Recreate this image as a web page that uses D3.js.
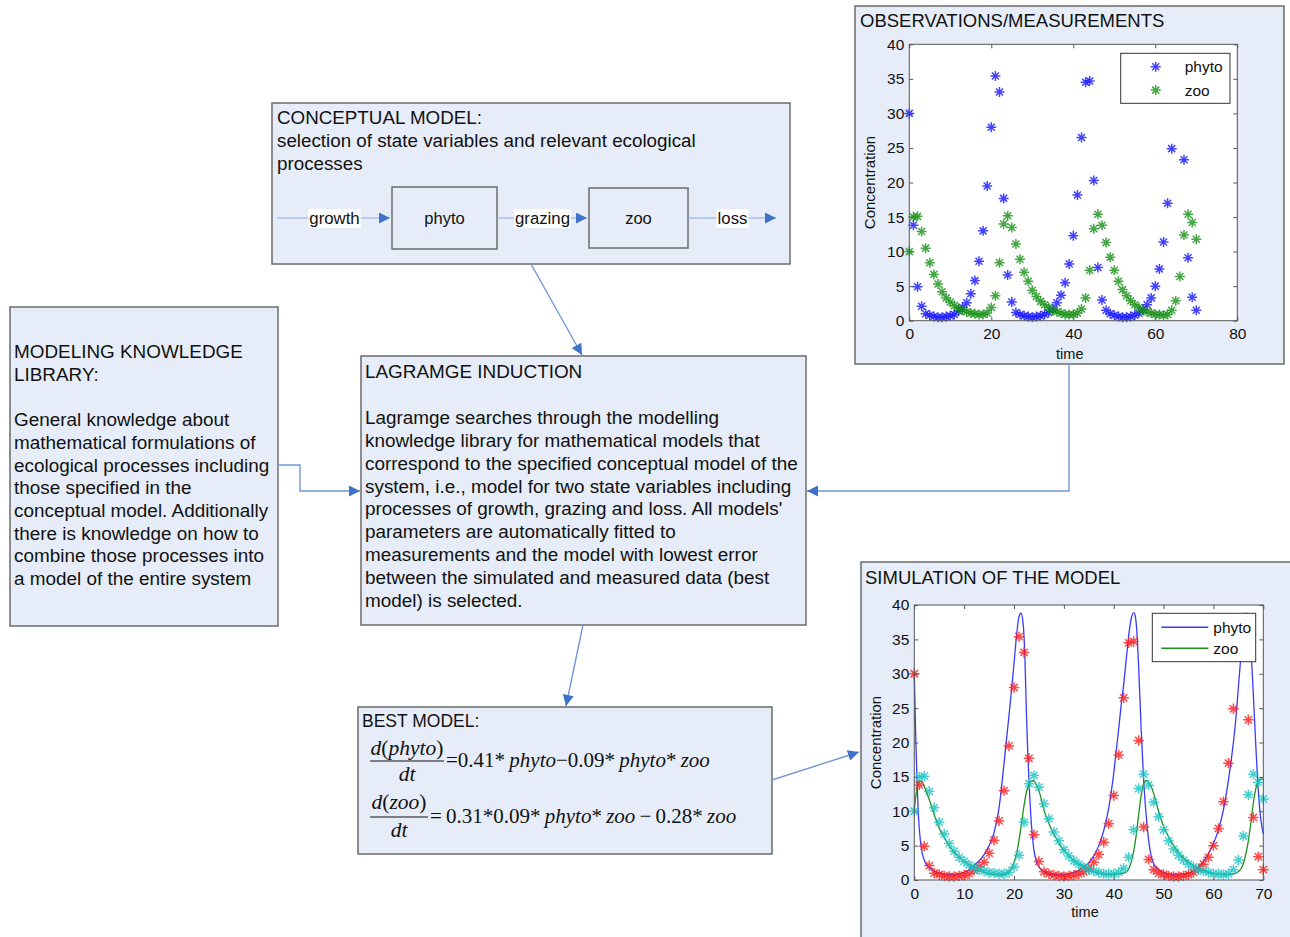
<!DOCTYPE html>
<html>
<head>
<meta charset="utf-8">
<script src="https://cdn.jsdelivr.net/npm/d3@7"></script>
<style>
  body { margin: 0; background: #fff; }
  svg { display: block; }
</style>
</head>
<body>
<svg id="fig" width="1290" height="937"></svg>
<script>
// ---- data ----
// measured series, one sample per time unit (t = 0..70)
const obsTime = d3.range(0, 71);
const phytoObs = [30, 13.8, 4.9, 2.1, 1.0, 0.8, 0.6, 0.5, 0.5, 0.6, 0.7, 0.9, 1.4, 1.9, 2.6, 3.9, 5.8, 8.6, 13.0, 19.5,
  28.0, 35.4, 33.1, 17.7, 6.6, 2.7, 1.2, 0.9, 0.7, 0.6, 0.5, 0.6, 0.7, 0.9, 1.2, 1.7, 2.6, 3.7, 5.5, 8.2,
  12.3, 18.2, 26.5, 34.5, 34.7, 20.3, 7.7, 3.0, 1.5, 1.0, 0.8, 0.6, 0.5, 0.5, 0.6, 0.8, 1.1, 1.6, 2.3, 3.3,
  5.0, 7.5, 11.4, 17.0, 24.9, 34.5, 36.5, 23.3, 9.1, 3.4, 1.5];
const zooObs = [10.0, 15.0, 15.1, 12.9, 10.5, 8.4, 6.7, 5.3, 4.2, 3.3, 2.7, 2.2, 1.8, 1.5, 1.3, 1.1, 1.0, 0.9, 0.9, 1.1,
  1.9, 3.6, 8.4, 14.0, 15.2, 13.5, 11.1, 8.9, 7.0, 5.7, 4.4, 3.5, 2.8, 2.3, 1.9, 1.5, 1.3, 1.1, 0.9, 0.9,
  0.9, 1.1, 1.7, 3.3, 7.3, 13.3, 15.4, 13.8, 11.3, 9.2, 7.3, 5.7, 4.5, 3.6, 2.9, 2.3, 1.9, 1.5, 1.3, 1.1,
  0.9, 0.9, 0.8, 0.9, 1.5, 2.9, 6.4, 12.4, 15.4, 14.2, 11.8];

// simulated curves of the best model
const simPhytoTime = [0, 0.25, 0.5, 0.75, 1, 1.5, 2, 2.5, 3, 4, 5, 6, 7, 8, 9, 10, 11, 12, 13, 14, 15, 16, 17, 17.5, 18, 18.5,
  19, 19.5, 20, 20.5, 21, 21.4, 21.8, 22.2, 22.5, 23, 23.5, 24, 24.5, 25, 26, 27, 28, 29, 30, 31, 32, 33, 34, 35,
  36, 37, 38, 39, 39.5, 40, 40.5, 41, 41.5, 42, 42.5, 43, 43.5, 44, 44.3, 44.6, 45, 45.5, 46, 46.5, 47, 47.5, 48,
  49, 50, 51, 52, 53, 54, 55, 56, 57, 58, 59, 60, 61, 62, 63, 64, 64.5, 65, 65.5, 66, 66.5, 67, 67.5, 68, 68.5,
  69, 69.5, 70];
const simPhyto = [30, 22, 15.5, 10.5, 7.5, 4.2, 2.9, 2.2, 1.8, 1.3, 1.0, 0.85, 0.8, 0.8, 0.9, 1.1, 1.5, 2.1, 2.8, 3.7, 5.0, 6.9, 10.5, 13.5, 17, 20.5,
  24, 27.6, 31.5, 35.5, 38.3, 38.8, 37.5, 32, 24, 14.5, 8, 4.3, 2.7, 1.9, 1.2, 0.9, 0.8, 0.8, 0.8, 0.9, 1.1, 1.4, 1.9, 2.5,
  3.5, 5.0, 7.2, 10.5, 12.8, 15.5, 18.8, 22, 25.5, 28.5, 32, 35.5, 38, 38.9, 38.5, 36.5, 31, 22, 14.5, 9.5, 5.8, 3.5, 2.4,
  1.5, 1.1, 0.9, 0.8, 0.8, 0.9, 1.0, 1.3, 1.9, 2.7, 3.8, 5.3, 7.3, 10.2, 14.5, 20, 23.5, 28, 32.5, 36.5, 38.8, 38.5, 34, 27, 19.5,
  13, 8.8, 6.7];
const simZooTime = [0, 0.5, 1, 1.5, 2, 2.5, 3, 4, 5, 6, 7, 8, 9, 10, 11, 12, 13, 14, 15, 16, 17, 18, 19, 19.5, 20, 20.5,
  21, 21.5, 22, 22.5, 23, 23.5, 24, 24.5, 25, 26, 27, 28, 29, 30, 31, 32, 33, 34, 35, 36, 37, 38, 39, 40, 41, 42,
  42.5, 43, 43.5, 44, 44.5, 45, 45.5, 46, 46.5, 47, 47.5, 48, 49, 50, 51, 52, 53, 54, 55, 56, 57, 58, 59, 60, 61,
  62, 63, 64, 65, 65.5, 66, 66.5, 67, 67.5, 68, 68.5, 69, 69.5, 70];
const simZoo = [10.2, 13.2, 14.4, 14.3, 13.6, 12.7, 11.7, 9.5, 7.5, 6.2, 5.0, 4.0, 3.3, 2.7, 2.2, 1.7, 1.4, 1.1, 0.9, 0.8, 0.7, 0.8, 1.2, 1.7, 2.5, 3.8,
  5.8, 8.2, 10.8, 12.8, 13.9, 14.4, 14.4, 13.8, 13.0, 10.2, 8.2, 6.7, 5.4, 4.3, 3.5, 2.8, 2.3, 1.9, 1.5, 1.25, 1.0, 0.9, 0.8, 0.8, 0.85, 1.0,
  1.2, 1.6, 2.6, 4.2, 6.5, 9.5, 12.3, 14.0, 14.5, 14.2, 13.6, 12.6, 10.0, 7.8, 6.3, 5.0, 4.0, 3.2, 2.6, 2.1, 1.7, 1.4, 1.1, 0.95, 0.85,
  0.8, 0.8, 0.9, 1.2, 1.6, 2.4, 3.8, 5.7, 8.3, 11.2, 13.3, 14.3, 14.7, 14.6];

const seriesNames = ["phyto", "zoo"];
const yTicks = [0, 5, 10, 15, 20, 25, 30, 35, 40];
const obsXTicks = [0, 20, 40, 60, 80];
const simXTicks = [0, 10, 20, 30, 40, 50, 60, 70];

const libraryLines = ["MODELING KNOWLEDGE", "LIBRARY:", "", "General knowledge about", "mathematical formulations of",
  "ecological processes including", "those specified in the", "conceptual model. Additionally",
  "there is knowledge on how to", "combine those processes into", "a model of the entire system"];
const inductionLines = ["LAGRAMGE INDUCTION", "", "Lagramge searches through the modelling",
  "knowledge library for mathematical models that", "correspond to the specified conceptual model of the",
  "system, i.e., model for two state variables including", "processes of growth, grazing and loss. All models'",
  "parameters are automatically fitted to", "measurements and the model with lowest error",
  "between the simulated and measured data (best", "model) is selected."];
const conceptLines = ["CONCEPTUAL MODEL:", "selection of state variables and relevant ecological", "processes"];

// ---- drawing ----
const SANS = "'Liberation Sans', Arial, sans-serif";
const SERIF = "'Liberation Serif', 'Times New Roman', serif";
const BOX_FILL = "#e6edf8", BOX_STROKE = "#6b6b6b";
const LINK = "#7398d6", HEAD = "#3f72c8";

const svg = d3.select("#fig");
svg.append("rect").attr("width", 1290).attr("height", 937).attr("fill", "#fff");

svg.append("defs").append("marker")
  .attr("id", "ah").attr("viewBox", "0 0 10 10").attr("refX", 10).attr("refY", 5)
  .attr("markerWidth", 12).attr("markerHeight", 11).attr("markerUnits", "userSpaceOnUse")
  .attr("orient", "auto")
  .append("path").attr("d", "M0,0L10,5L0,10z").attr("fill", HEAD);

function box(x, y, w, h, fill) {
  return svg.append("rect").attr("x", x).attr("y", y).attr("width", w).attr("height", h)
    .attr("fill", fill || BOX_FILL).attr("stroke", BOX_STROKE).attr("stroke-width", 1.5);
}

function textLines(arr, x, y, dy, size) {
  const t = svg.append("text").attr("font-family", SANS).attr("font-size", size).attr("fill", "#111");
  arr.forEach((s, i) => t.append("tspan").attr("x", x).attr("y", y + i * dy).text(s));
  return t;
}

function link(points) {
  svg.append("path").attr("d", d3.line()(points)).attr("fill", "none")
    .attr("stroke", LINK).attr("stroke-width", 1.4).attr("marker-end", "url(#ah)");
}

// boxes
box(272, 103, 518, 161);
box(10, 307, 268, 319);
box(361, 356, 445, 269);
box(358, 707, 414, 147);
box(855, 6, 429, 358);
box(861, 562, 440, 390);

textLines(conceptLines, 277, 124, 23, 18.8);
textLines(libraryLines, 14, 358, 22.7, 18.9);
textLines(inductionLines, 365, 378, 22.9, 18.9);
textLines(["BEST MODEL:"], 362, 727, 0, 17.5);
textLines(["OBSERVATIONS/MEASUREMENTS"], 860, 27, 0, 18.5);
textLines(["SIMULATION OF THE MODEL"], 865, 584, 0, 18.5);

// conceptual model flow
const flowY = 218;
box(392, 187, 105, 62);
box(589, 188, 99, 60);
[["phyto", 444.5], ["zoo", 638.5]].forEach(([s, cx]) =>
  svg.append("text").attr("x", cx).attr("y", flowY + 6).attr("text-anchor", "middle")
    .attr("font-family", SANS).attr("font-size", 16.5).attr("fill", "#111").text(s));
const flows = [
  { label: "growth", x1: 277, x2: 392, lx: 334.5 },
  { label: "grazing", x1: 497, x2: 589, lx: 542.5 },
  { label: "loss", x1: 688, x2: 778, lx: 732.5 }
];
flows.forEach(f => {
  svg.append("line").attr("x1", f.x1).attr("x2", f.x2 - 2).attr("y1", flowY).attr("y2", flowY)
    .attr("stroke", "#8aa9dc").attr("stroke-width", 1.2).attr("marker-end", "url(#ah)");
  const t = svg.append("text").attr("x", f.lx).attr("y", flowY + 6).attr("text-anchor", "middle")
    .attr("font-family", SANS).attr("font-size", 16.8).attr("fill", "#111").text(f.label);
  const b = t.node().getBBox();
  svg.insert("rect", () => t.node()).attr("x", b.x - 1).attr("y", b.y).attr("width", b.width + 2)
    .attr("height", b.height).attr("fill", "#fff");
});

// equations
function fraction(cx, yNum, yBar, yDen, w, parts) {
  const n = svg.append("text").attr("x", cx).attr("y", yNum).attr("text-anchor", "middle")
    .attr("font-family", SERIF).attr("font-size", 21.5).attr("fill", "#111");
  parts.forEach(([s, it]) => n.append("tspan").attr("font-style", it ? "italic" : "normal").text(s));
  svg.append("line").attr("x1", cx - w / 2).attr("x2", cx + w / 2).attr("y1", yBar).attr("y2", yBar)
    .attr("stroke", "#111").attr("stroke-width", 1.1);
  svg.append("text").attr("x", cx).attr("y", yDen).attr("text-anchor", "middle")
    .attr("font-family", SERIF).attr("font-size", 21.5).attr("font-style", "italic").attr("fill", "#111").text("dt");
}
function rhs(x, y, parts) {
  const t = svg.append("text").attr("x", x).attr("y", y).attr("font-family", SERIF)
    .attr("font-size", 21).attr("fill", "#111").attr("xml:space", "preserve");
  parts.forEach(([s, it]) => t.append("tspan").attr("font-style", it ? "italic" : "normal").text(s));
}
fraction(407, 755, 761, 781, 74, [["d", true], ["(", false], ["phyto", true], [")", false]]);
rhs(446, 767, [["=0.41*\u2009", false], ["phyto", true], ["\u2212", false], ["0.09*\u2009", false], ["phyto", true], ["*\u2009", false], ["zoo", true]]);
fraction(399, 809, 817, 837, 58, [["d", true], ["(", false], ["zoo", true], [")", false]]);
rhs(430, 823, [["=\u20090.31*0.09*\u2009", false], ["phyto", true], ["*\u2009", false], ["zoo", true], ["\u2009\u2212\u2009", false], ["0.28*\u2009", false], ["zoo", true]]);

// connectors
link([[531, 264], [582, 355]]);
link([[278, 465], [300, 465], [300, 491], [360, 491]]);
link([[1069, 364], [1069, 491], [807, 491]]);
link([[583, 625], [566, 706]]);
link([[772, 780], [859, 752]]);

// ---- charts ----
function star(r) {
  const k = r * 0.7;
  return `M${-r},0H${r}M0,${-r}V${r}M${-k},${-k}L${k},${k}M${-k},${k}L${k},${-k}`;
}

function chart(cfg) {
  const g = svg.append("g");
  const x = d3.scaleLinear().domain([cfg.xTicks[0], cfg.xTicks[cfg.xTicks.length - 1]]).range([cfg.left, cfg.right]);
  const y = d3.scaleLinear().domain([0, 40]).range([cfg.bottom, cfg.top]);
  g.append("rect").attr("x", cfg.left).attr("y", cfg.top).attr("width", cfg.right - cfg.left)
    .attr("height", cfg.bottom - cfg.top).attr("fill", "#fff");

  const style = sel => {
    sel.select(".domain").remove();
    sel.selectAll("line").attr("stroke", "#555");
    sel.selectAll("text").attr("font-family", SANS).attr("font-size", 15.5).attr("fill", "#111");
  };
  g.append("g").attr("transform", `translate(0,${cfg.bottom})`)
    .call(d3.axisBottom(x).tickValues(cfg.xTicks).tickSizeInner(-4).tickSizeOuter(0).tickPadding(cfg.xPad)).call(style);
  g.append("g").attr("transform", `translate(0,${cfg.top})`)
    .call(d3.axisTop(x).tickValues(cfg.xTicks).tickSizeInner(-4).tickSizeOuter(0).tickFormat("")).call(style);
  g.append("g").attr("transform", `translate(${cfg.left},0)`)
    .call(d3.axisLeft(y).tickValues(yTicks).tickSizeInner(-4).tickSizeOuter(0).tickPadding(5)).call(style);
  g.append("g").attr("transform", `translate(${cfg.right},0)`)
    .call(d3.axisRight(y).tickValues(yTicks).tickSizeInner(-4).tickSizeOuter(0).tickFormat("")).call(style);

  const plot = g.append("g");
  (cfg.lines || []).forEach(s => {
    plot.append("path").datum(s.t.map((t, i) => [t, s.v[i]]))
      .attr("fill", "none").attr("stroke", s.color).attr("stroke-width", 1.3)
      .attr("d", d3.line().x(d => x(d[0])).y(d => y(d[1])).curve(d3.curveMonotoneX));
  });
  cfg.points.forEach(s => {
    plot.append("g").selectAll("path").data(obsTime).join("path")
      .attr("transform", (t, i) => `translate(${x(t)},${y(s.v[i])})`)
      .attr("d", star(cfg.r)).attr("fill", "none").attr("stroke", s.color)
      .attr("stroke-width", 1.5).attr("stroke-opacity", 0.8);
  });

  g.append("rect").attr("x", cfg.left).attr("y", cfg.top).attr("width", cfg.right - cfg.left)
    .attr("height", cfg.bottom - cfg.top).attr("fill", "none").attr("stroke", "#555").attr("stroke-width", 1);

  g.append("text").attr("x", (cfg.left + cfg.right) / 2 + cfg.timeShift).attr("y", cfg.timeY).attr("text-anchor", "middle")
    .attr("font-family", SANS).attr("font-size", 14.5).attr("fill", "#111").text("time");
  g.append("text").attr("transform", `translate(${cfg.ylabX},${(cfg.top + cfg.bottom) / 2}) rotate(-90)`)
    .attr("text-anchor", "middle").attr("dy", "0.35em")
    .attr("font-family", SANS).attr("font-size", 15).attr("fill", "#111").text("Concentration");

  // legend
  const L = cfg.legend;
  g.append("rect").attr("x", L.x).attr("y", L.y).attr("width", L.w).attr("height", L.h)
    .attr("fill", "#fff").attr("stroke", "#333").attr("stroke-width", 1);
  seriesNames.forEach((name, i) => {
    const yy = L.y + L.row0 + i * L.dy;
    const col = cfg.lines ? cfg.lines[i].color : cfg.points[i].color;
    if (cfg.lines) {
      g.append("line").attr("x1", L.x + 9).attr("x2", L.x + 56).attr("y1", yy).attr("y2", yy)
        .attr("stroke", col).attr("stroke-width", 1.5);
    } else {
      g.append("path").attr("transform", `translate(${L.x + 35},${yy})`).attr("d", star(cfg.r))
        .attr("fill", "none").attr("stroke", col).attr("stroke-width", 1.5).attr("stroke-opacity", 0.8);
    }
    g.append("text").attr("x", L.x + L.tx).attr("y", yy).attr("dy", "0.35em")
      .attr("font-family", SANS).attr("font-size", 15.5).attr("fill", "#111").text(name);
  });
}

chart({
  left: 909.3, right: 1237.3, top: 44.3, bottom: 320.7, xTicks: obsXTicks, xPad: 7,
  r: 5, timeY: 359, timeShift: -3.5, ylabX: 870,
  points: [{ v: phytoObs, color: "#1414ff" }, { v: zooObs, color: "#159015" }],
  legend: { x: 1120.7, y: 53.3, w: 109.3, h: 50, row0: 13.5, dy: 23.3, tx: 64 }
});

chart({
  left: 914.3, right: 1263.3, top: 605, bottom: 880, xTicks: simXTicks, xPad: 8,
  r: 5.2, timeY: 917, timeShift: -3.8, ylabX: 876,
  lines: [{ t: simPhytoTime, v: simPhyto, color: "#3a3aff" }, { t: simZooTime, v: simZoo, color: "#1f8f1f" }],
  points: [{ v: phytoObs, color: "#ff1a1a" }, { v: zooObs, color: "#19c3c3" }],
  legend: { x: 1152.3, y: 613.3, w: 103.4, h: 48.4, row0: 14, dy: 21, tx: 61 }
});
</script>
</body>
</html>
